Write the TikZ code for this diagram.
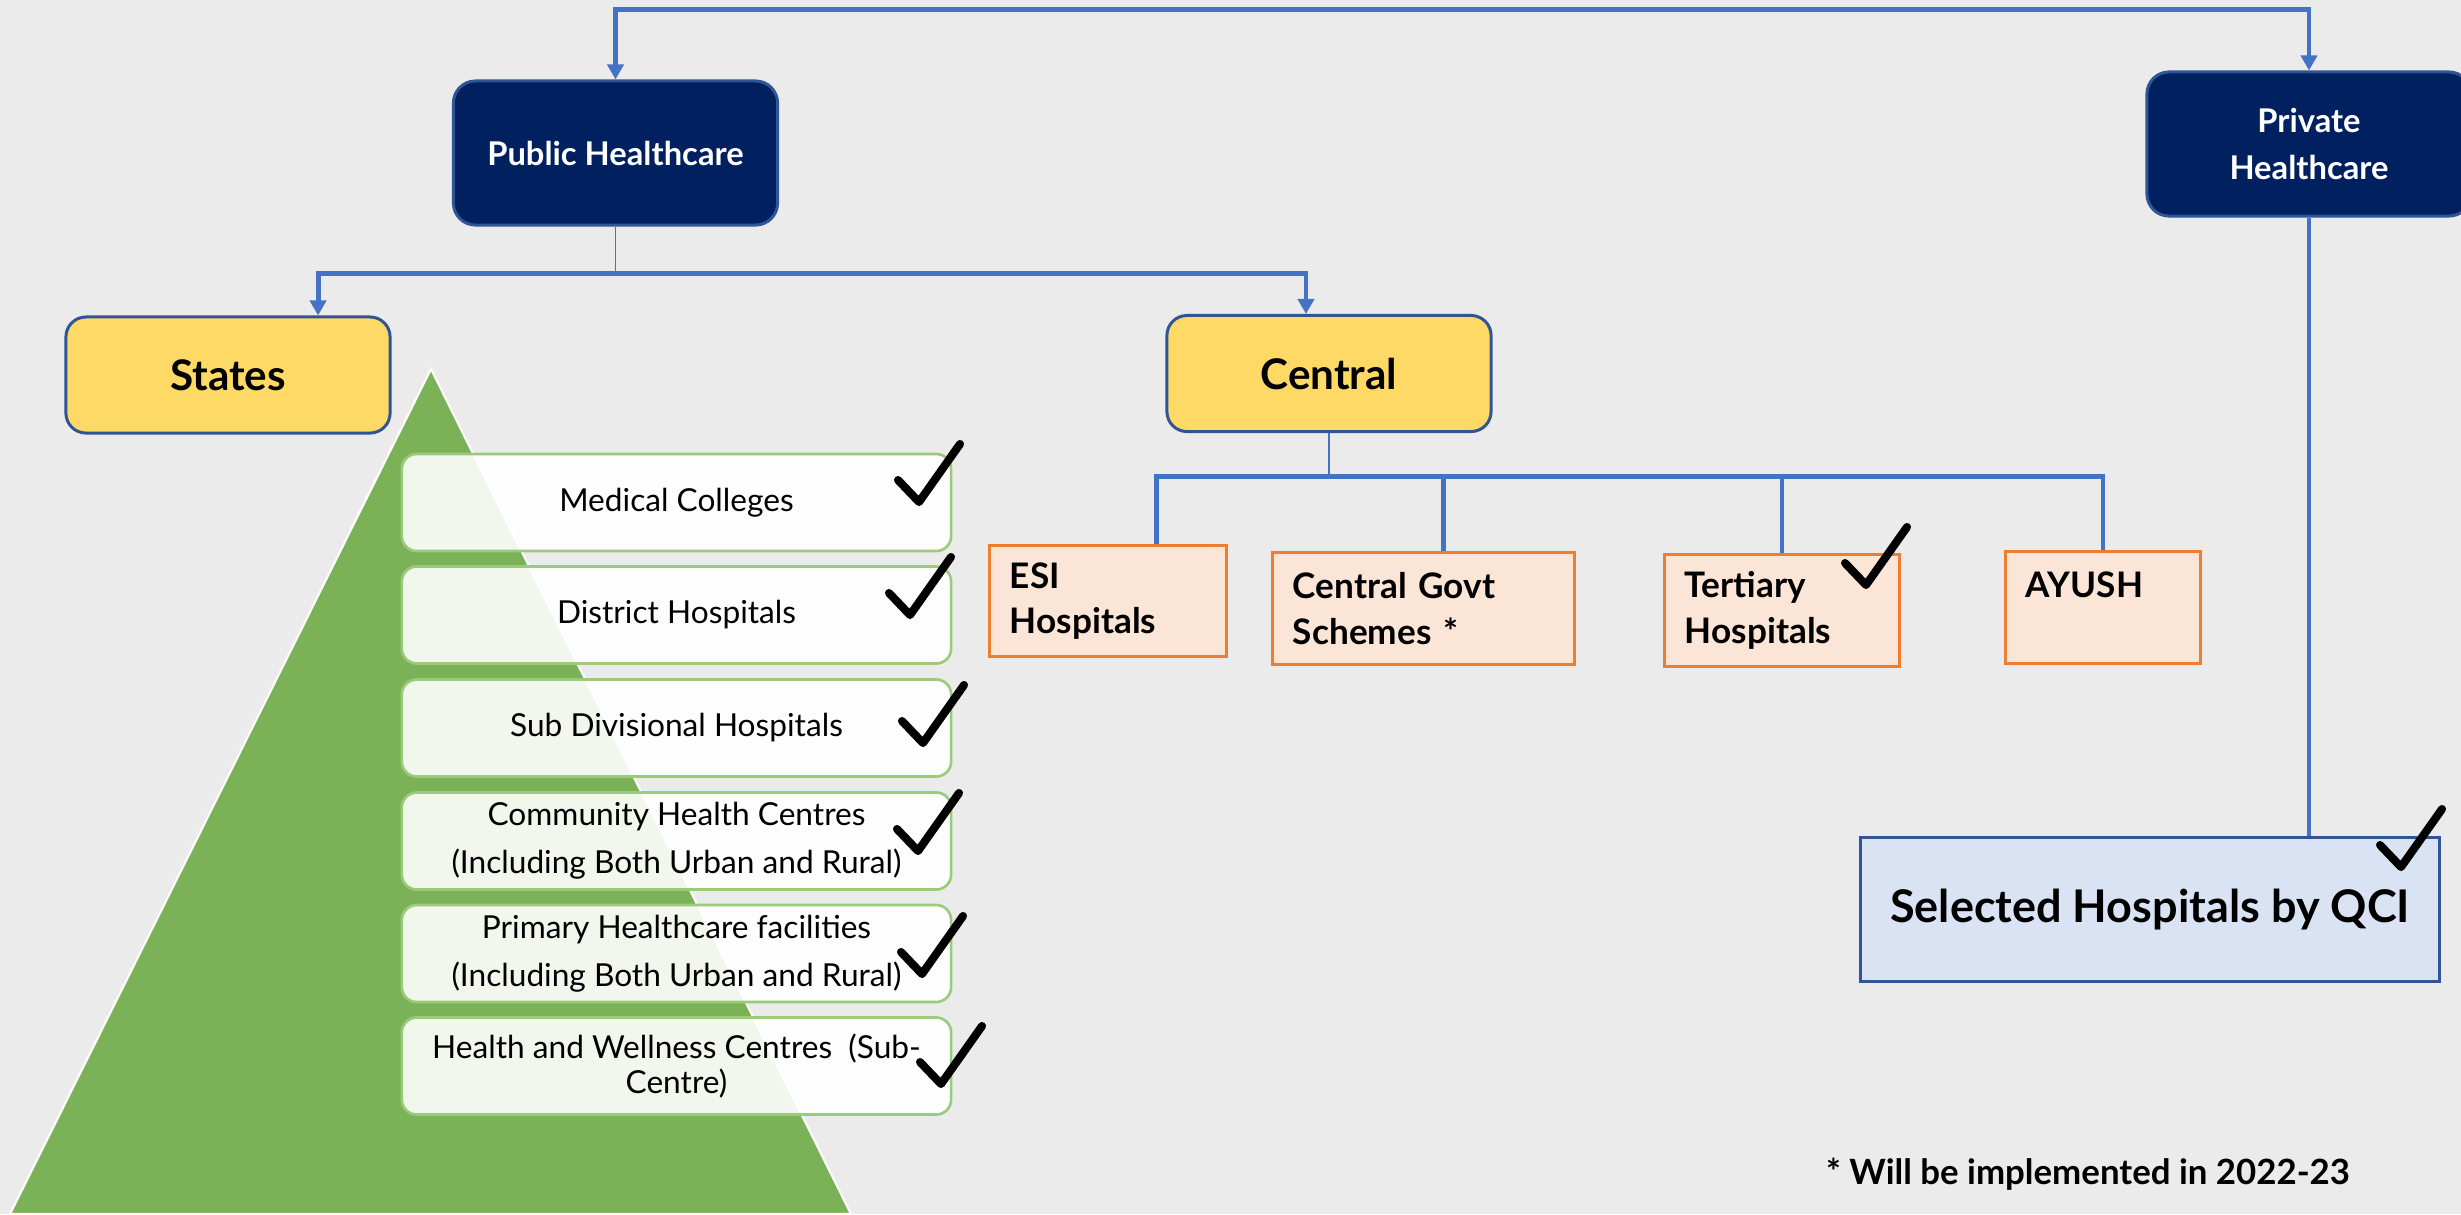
\documentclass[tikz,border=0pt]{standalone}
\usepackage{fontspec}
\setmainfont{Lato}
\usepackage{xcolor}
\usepackage{tikz}
\usetikzlibrary{arrows.meta}

\definecolor{bggrey}{HTML}{EBEBEB}
\definecolor{lineblue}{HTML}{4472C4}
\definecolor{navy}{HTML}{002060}
\definecolor{navyedge}{HTML}{2F5597}
\definecolor{gold}{HTML}{FFD966}
\definecolor{peach}{HTML}{FBE5D6}
\definecolor{orangeedge}{HTML}{ED7D31}
\definecolor{paleblue}{HTML}{DAE3F3}
\definecolor{leaf}{HTML}{7CB257}
\definecolor{rowedge}{HTML}{9BCB7A}

\begin{document}
\begin{tikzpicture}[x=0.01cm, y=-0.01cm,
	>={Triangle[length=4.3pt, width=4.6pt]},
	conn/.style={draw=lineblue, line width=1.4pt},
	thinconn/.style={draw=lineblue, line width=0.45pt},
	sector/.style={rounded corners=0.22cm, draw=navyedge, line width=0.85pt, fill=navy,
		text=white, font=\bfseries\fontsize{9.3}{13.4}\selectfont, align=center,
		minimum width=3.24cm, minimum height=1.44cm, inner sep=0pt},
	level/.style={rounded corners=0.2cm, draw=navyedge, line width=0.85pt, fill=gold,
		font=\bfseries\fontsize{12}{14}\selectfont, minimum width=3.24cm,
		minimum height=1.16cm, inner sep=0pt},
	unit/.style={draw=orangeedge, line width=0.85pt, fill=peach,
		font=\bfseries\fontsize{10}{13}\selectfont, align=left,
		inner xsep=0.2cm, inner ysep=0pt, minimum height=1.11cm},
	tier/.style={rounded corners=0.15cm, draw=rowedge, line width=0.75pt, fill=white,
		fill opacity=0.9, text opacity=1, font=\fontsize{9}{13.7}\selectfont,
		align=center, minimum width=5.49cm, minimum height=0.97cm, inner sep=0pt},
	checkmark/.pic={\draw[line width=2.3pt, line cap=round, line join=round]
		(-21,-22) -- (0,0) -- (41,-58);}
	]
	\path[use as bounding box, fill=bggrey] (0,0) rectangle (2461,1214);

	% pyramid of state facilities
	\filldraw[fill=leaf, draw=white, line width=0.6pt] (431,369) -- (851,1214) -- (10,1214) -- cycle;
	\node[tier] (t1) at (676.5,502.5) {Medical Colleges};
	\node[tier] (t2) at (676.5,615) {District Hospitals};
	\node[tier] (t3) at (676.5,728) {Sub Divisional Hospitals};
	\node[tier] (t4) at (676.5,841) {Community Health Centres\\(Including Both Urban and Rural)};
	\node[tier] (t5) at (676.5,953.5) {Primary Healthcare facilities\\(Including Both Urban and Rural)};
	\node[tier, font=\fontsize{9}{9.7}\selectfont] (t6) at (676.5,1066) {Health and Wellness Centres\ \ (Sub-\\Centre)};

	\node[sector] (pub) at (615.5,153) {Public Healthcare};
	\node[sector] (priv) at (2309,144) {Private\\Healthcare};
	\node[level] (states) at (228,375) {States};
	\node[level] (central) at (1329,373.5) {Central};

	\node[unit, text width=1.96cm] (esi) at (1108,601) {ESI\\Hospitals};
	\node[unit, text width=2.61cm] (cgs) at (1423.5,608.5) {Central Govt\\Schemes *};
	\node[unit, text width=1.94cm] (tert) at (1782,610.5) {Tertiary\\Hospitals};
	\node[unit, text width=1.54cm] (ayush) at (2103,607.5) {AYUSH\\~};

	\node[draw=navyedge, line width=0.85pt, fill=paleblue, minimum width=5.78cm,
		minimum height=1.43cm, font=\bfseries\fontsize{12.8}{15}\selectfont] (qci) at (2150,909.5) {Selected Hospitals by QCI};
	\node[font=\bfseries\fontsize{9.9}{12}\selectfont] (note) at (2088,1174) {* Will be implemented in 2022-23};

	% connectors
	\draw[conn,<->] (pub.north) -- ++(0,-70) -| (priv.north);
	\draw[thinconn] (pub.south) -- ++(0,47) coordinate (pubbar);
	\coordinate (stin) at ([xshift=9mm]states.north);
	\coordinate (cein) at ([xshift=-2.3mm]central.north);
	\draw[conn,<->] (stin) |- (cein |- pubbar) -- (cein);

	\draw[thinconn] (central.south) -- ++(0,43) coordinate (cenbar);
	\coordinate (esiin) at ([xshift=4.8mm]esi.north);
	\coordinate (cgsin) at ([xshift=2mm]cgs.north);
	\draw[conn] (esiin) |- (ayush.north |- cenbar) -- (ayush.north);
	\draw[conn] (cgsin) -- (cgsin |- cenbar);
	\draw[conn] (tert.north) -- (tert.north |- cenbar);

	\draw[conn] (priv.south) -- (priv.south |- qci.north);

	% ticks
	\pic at (919,502) {checkmark};
	\pic at (910,615) {checkmark};
	\pic at (923,743) {checkmark};
	\pic at (918,851) {checkmark};
	\pic at (922,974) {checkmark};
	\pic at (941,1084) {checkmark};
	\pic at (1866,585) {checkmark};
	\pic at (2401,867) {checkmark};
\end{tikzpicture}
\end{document}
